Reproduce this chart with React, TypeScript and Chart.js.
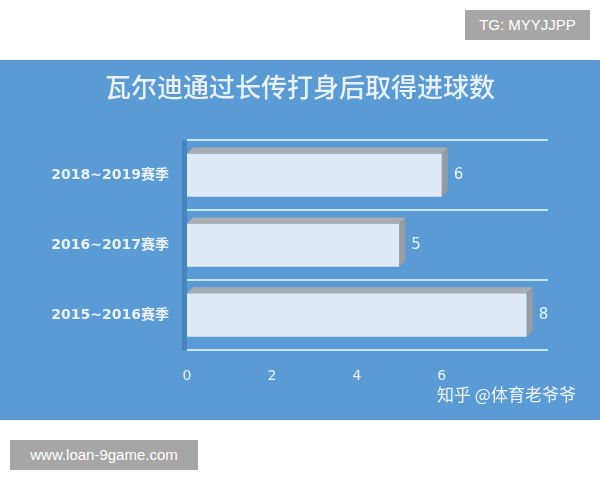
import { useRef, useEffect } from "react";
import { Chart, registerables } from "chart.js";

Chart.register(...registerables);

const title = "瓦尔迪通过长传打身后取得进球数";
const seasons = ["2018~2019赛季", "2016~2017赛季", "2015~2016赛季"];
const goals = [6, 5, 8];
const tickValues = [0, 2, 4, 6];

const BLUE = "#5a9ad5";
const LINE = "#c4e6fb";
const TEXT = "#e9f1fa";

// gray top + side so bars look like the 3D excel ones
const bar3d = {
  id: "bar3d",
  beforeDatasetsDraw(chart: any) {
    const { ctx, chartArea } = chart;
    ctx.save();
    ctx.fillStyle = "rgba(40, 95, 150, 0.35)";
    ctx.fillRect(chartArea.left - 5, chartArea.top, 5, chartArea.bottom - chartArea.top);
    ctx.restore();
  },
  afterDatasetsDraw(chart: any) {
    const { ctx } = chart;
    const meta = chart.getDatasetMeta(0);
    const d = 6;
    ctx.save();
    meta.data.forEach((bar: any, i: number) => {
      const { x, y, base, height } = bar.getProps(["x", "y", "base", "height"], true);
      const top = y - height / 2;
      const bottom = y + height / 2;
      ctx.fillStyle = "#a9adb2";
      ctx.beginPath();
      ctx.moveTo(base, top);
      ctx.lineTo(x, top);
      ctx.lineTo(x + d, top - d);
      ctx.lineTo(base + d, top - d);
      ctx.closePath();
      ctx.fill();
      ctx.fillStyle = "#979ca2";
      ctx.beginPath();
      ctx.moveTo(x, top);
      ctx.lineTo(x + d, top - d);
      ctx.lineTo(x + d, bottom - d);
      ctx.lineTo(x, bottom);
      ctx.closePath();
      ctx.fill();
      ctx.fillStyle = TEXT;
      ctx.font = "15px 'DejaVu Sans'";
      ctx.textBaseline = "middle";
      ctx.textAlign = "left";
      ctx.fillText(String(goals[i]), x + d + 6, y);
    });
    ctx.restore();
  },
};

const GoalsChart = () => {
  const chartRef = useRef<HTMLCanvasElement | null>(null);

  useEffect(() => {
    const ctx = chartRef.current?.getContext("2d");
    if (!ctx) return;

    const myChart = new Chart(ctx, {
      type: "bar",
      data: {
        labels: seasons,
        datasets: [
          {
            label: "",
            data: goals,
            backgroundColor: "#e0eaf6",
            borderWidth: 0,
            categoryPercentage: 1,
            barPercentage: 0.62,
          },
        ],
      },
      options: {
        indexAxis: "y",
        animation: false,
        responsive: false,
        layout: { padding: { left: 52, right: 52, top: 0, bottom: 40 } },
        plugins: {
          legend: { display: false },
          tooltip: { enabled: false },
          title: {
            display: true,
            text: title,
            color: TEXT,
            font: { family: "'Noto Sans CJK SC'", size: 26, weight: 500 },
            padding: { top: 12, bottom: 37 },
          },
        },
        scales: {
          y: {
            grid: { offset: true, color: LINE, lineWidth: 2, drawTicks: false },
            border: { display: false },
            ticks: {
              color: TEXT,
              padding: 18,
              font: { family: "'DejaVu Sans', 'Noto Sans CJK SC'", size: 14, weight: "bold" },
            },
            afterFit: (s: any) => {
              s.width = 135;
            },
          },
          x: {
            min: 0,
            max: 8.5,
            grid: { display: false },
            border: { display: false },
            afterBuildTicks: (s: any) => {
              s.ticks = tickValues.map((v) => ({ value: v }));
            },
            ticks: {
              color: TEXT,
              padding: 10,
              font: { family: "'DejaVu Sans'", size: 14 },
            },
            afterFit: (s: any) => {
              s.height = 30;
            },
          },
        },
      },
      plugins: [bar3d],
    });

    return () => {
      myChart.destroy();
    };
  }, []);

  return <canvas ref={chartRef} width={600} height={360}></canvas>;
};

const tag = {
  position: "absolute" as const,
  background: "#a6a6a6",
  color: "#ffffff",
  fontFamily: "'Liberation Sans', Arial, sans-serif",
  fontSize: 15,
  height: 30,
  lineHeight: "30px",
  textAlign: "center" as const,
};

export default function App() {
  return (
    <div
      style={{
        position: "absolute",
        left: 0,
        top: 0,
        width: 600,
        height: 480,
        background: "#ffffff",
        overflow: "hidden",
      }}
    >
      <div style={{ position: "absolute", left: 0, top: 60, width: 600, height: 360, background: BLUE }}>
        <GoalsChart />
        <div
          style={{
            position: "absolute",
            left: 437,
            top: 321,
            color: "#eef4fb",
            fontFamily: "'Noto Sans CJK SC'",
            fontSize: 17,
          }}
        >
          知乎 @体育老爷爷
        </div>
      </div>
      <div style={{ ...tag, left: 465, top: 10, width: 125 }}>TG: MYYJJPP</div>
      <div style={{ ...tag, left: 10, top: 440, width: 188 }}>www.loan-9game.com</div>
    </div>
  );
}
